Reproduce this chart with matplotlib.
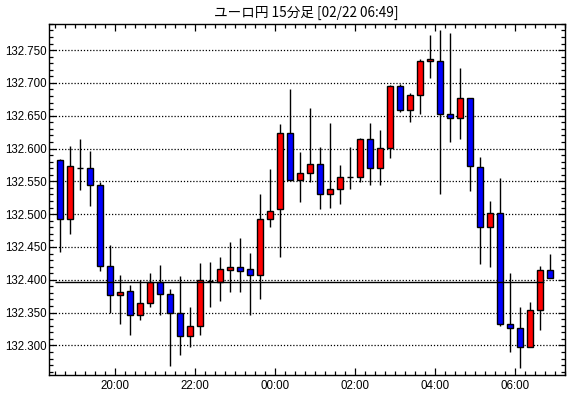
import numpy as np
import matplotlib.pyplot as plt
from matplotlib.ticker import MultipleLocator, FixedLocator

# 15 minute candles, first one starts 18:30
start_minutes = 18 * 60 + 30
opens = [132.583, 132.492, 132.570, 132.570, 132.545, 132.421, 132.377, 132.383, 132.347, 132.365,
         132.397, 132.379, 132.350, 132.315, 132.330, 132.398, 132.397, 132.415, 132.420, 132.416,
         132.408, 132.492, 132.508, 132.624, 132.552, 132.562, 132.577, 132.531, 132.539, 132.556,
         132.556, 132.614, 132.570, 132.601, 132.695, 132.658, 132.681, 132.733, 132.733, 132.653,
         132.646, 132.677, 132.572, 132.481, 132.502, 132.333, 132.327, 132.298, 132.354, 132.415]
highs = [132.584, 132.604, 132.614, 132.597, 132.549, 132.453, 132.408, 132.392, 132.400, 132.411,
         132.422, 132.386, 132.405, 132.358, 132.425, 132.427, 132.435, 132.457, 132.464, 132.441,
         132.531, 132.569, 132.637, 132.691, 132.595, 132.662, 132.603, 132.639, 132.575, 132.603,
         132.616, 132.639, 132.629, 132.697, 132.699, 132.685, 132.737, 132.773, 132.780, 132.776,
         132.723, 132.677, 132.587, 132.520, 132.555, 132.411, 132.358, 132.366, 132.421, 132.439]
lows = [132.443, 132.470, 132.537, 132.513, 132.414, 132.350, 132.333, 132.316, 132.339, 132.359,
        132.346, 132.269, 132.285, 132.298, 132.316, 132.359, 132.368, 132.382, 132.382, 132.347,
        132.370, 132.480, 132.435, 132.552, 132.519, 132.549, 132.508, 132.510, 132.516, 132.539,
        132.549, 132.545, 132.545, 132.585, 132.656, 132.640, 132.652, 132.708, 132.530, 132.610,
        132.614, 132.536, 132.424, 132.420, 132.330, 132.290, 132.265, 132.298, 132.324, 132.402]
closes = [132.492, 132.573, 132.570, 132.545, 132.421, 132.377, 132.382, 132.347, 132.365, 132.397,
          132.379, 132.350, 132.315, 132.329, 132.399, 132.398, 132.416, 132.420, 132.414, 132.408,
          132.492, 132.505, 132.624, 132.552, 132.563, 132.577, 132.531, 132.539, 132.556, 132.556,
          132.614, 132.570, 132.601, 132.695, 132.658, 132.681, 132.733, 132.736, 132.653, 132.646,
          132.677, 132.574, 132.481, 132.502, 132.333, 132.327, 132.298, 132.354, 132.415, 132.402]
ref_price = 132.397
time_labels = ['20:00', '22:00', '00:00', '02:00', '04:00', '06:00']
title = 'ユーロ円 15分足 [02/22 06:49]'

o = np.array(opens)
h = np.array(highs)
l = np.array(lows)
c = np.array(closes)
x = np.arange(len(o))

fig = plt.figure(figsize=(5.70, 3.98), dpi=100)
ax = fig.add_axes([0.086, 0.058, 0.9055, 0.882])

colors = np.where(c > o, '#ff0000', np.where(c < o, '#0000ff', '#000000'))
ax.vlines(x, l, h, color='black', linewidth=1.0, zorder=2)
ax.bar(x, c - o, bottom=o, width=0.6, color=colors, edgecolor='black',
       linewidth=1.0, zorder=3)

ax.hlines(ref_price, -0.5, len(o) - 1.6, color='black', linewidth=1.0, zorder=4)

ax.set_ylim(132.255, 132.790)
ax.set_xlim(-1.13, len(o) + 0.52)

# time axis: candle i is centred on its interval, so hh:00 sits between candles
def pos(minutes):
    return (minutes - start_minutes - 7.5) / 15.0

major_min = [20 * 60, 22 * 60, 24 * 60, 26 * 60, 28 * 60, 30 * 60]
ax.xaxis.set_major_locator(FixedLocator([pos(m) for m in major_min]))
ax.set_xticklabels(time_labels)
ax.xaxis.set_minor_locator(FixedLocator(np.arange(-0.5, len(o) + 0.6, 1.0)))

ax.yaxis.set_major_locator(MultipleLocator(0.05))
ax.yaxis.set_minor_locator(MultipleLocator(0.01))
ax.yaxis.set_major_formatter(plt.FuncFormatter(lambda v, p: f'{v:.3f}'))

ax.tick_params(which='both', direction='in', top=True, right=True, colors='black',
               labelsize=8.3, width=0.9)
ax.tick_params(which='major', length=5)
ax.tick_params(which='minor', length=3)
ax.tick_params(axis='y', pad=1.5)
ax.tick_params(axis='x', pad=4)
for lab in ax.get_xticklabels() + ax.get_yticklabels():
    lab.set_family(['Liberation Sans', 'DejaVu Sans'])

ax.grid(axis='y', which='major', color='black', linestyle=(0, (1, 1.5)), linewidth=0.9)
for s in ax.spines.values():
    s.set_linewidth(1.0)

fig.text(0.537, 0.967, title, ha='center', va='center', fontsize=9.8,
         family=['Noto Sans CJK JP', 'DejaVu Sans'])

fig.savefig('out.png', dpi=100)
